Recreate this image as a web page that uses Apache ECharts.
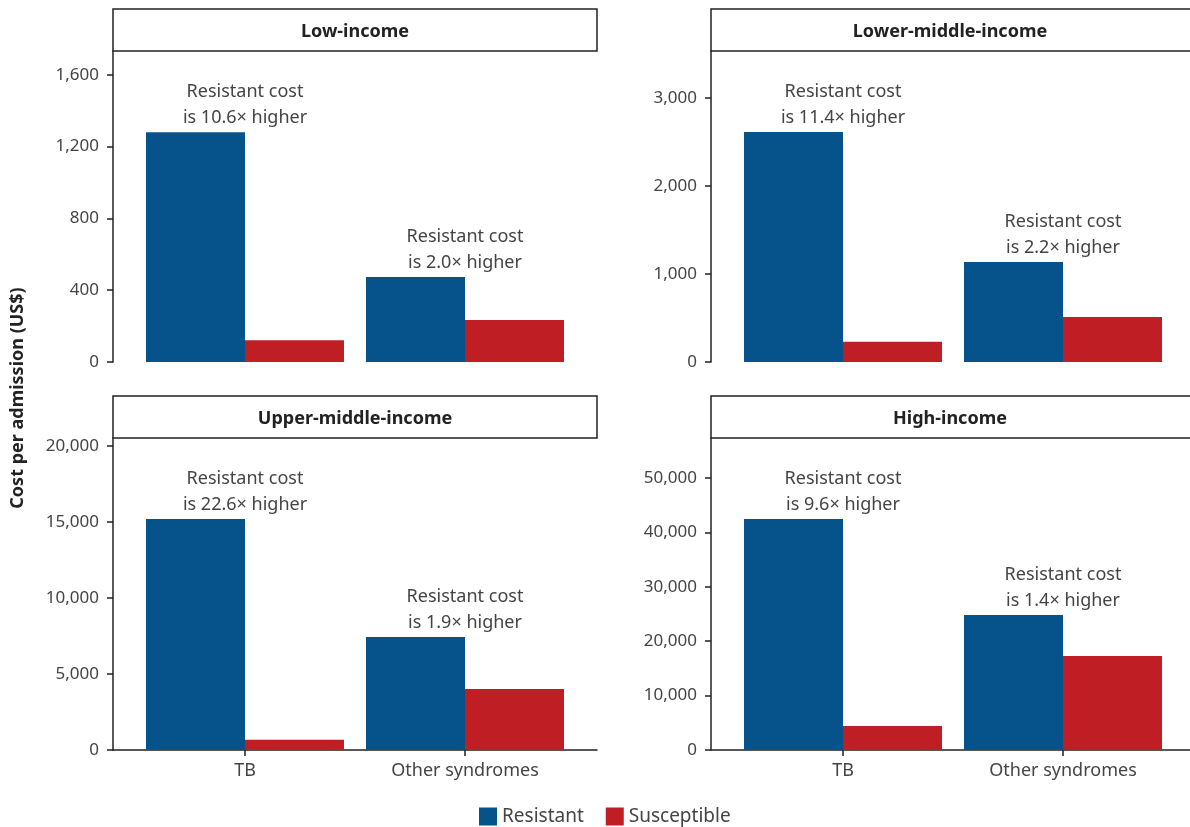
<!DOCTYPE html>
<html lang="en">
<head>
    <meta charset="UTF-8">
    <title>Cost per admission by income group</title>
    <style>
        html, body { margin: 0; padding: 0; background: #ffffff; }
        #chart { width: 1190px; height: 827px; }
    </style>
</head>
<body>
<div id="chart"></div>
<script src="https://cdn.jsdelivr.net/npm/echarts@6/dist/echarts.min.js"></script>
<script>
    // data
    var categories = ['TB', 'Other syndromes'];
    var panelNames = ['Low-income', 'Lower-middle-income', 'Upper-middle-income', 'High-income'];
    var seriesNames = ['Resistant', 'Susceptible'];
    var resistant = [[1280, 474], [2614, 1136], [15200, 7430], [42460, 24820]];
    var susceptible = [[121, 234], [229, 510], [672, 4010], [4420, 17280]];
    var ratios = [['10.6', '2.0'], ['11.4', '2.2'], ['22.6', '1.9'], ['9.6', '1.4']];
    var yTicks = [
        [0, 400, 800, 1200, 1600],
        [0, 1000, 2000, 3000],
        [0, 5000, 10000, 15000, 20000],
        [0, 10000, 20000, 30000, 40000, 50000]
    ];
    var yMax = [1733, 3534, 20526, 57353];

    var font = "'Source Sans Pro', 'Noto Sans', sans-serif";
    var blue = '#05538a';
    var red = '#be1e24';
    var ink = '#222222';

    // panel boxes: left, top of header, header width, visible plot width
    var boxes = [
        {left: 113, top: 9, width: 484, plotW: 484},
        {left: 711, top: 9, width: 484, plotW: 479},
        {left: 113, top: 396, width: 484, plotW: 484},
        {left: 711, top: 396, width: 484, plotW: 479}
    ];
    var headH = 42;
    var plotH = [311, 311, 312, 312];
    var pxPerCat = 220;

    var chart = echarts.init(document.getElementById('chart'));

    var grids = [], xAxes = [], yAxes = [], series = [], graphics = [];
    boxes.forEach(function (b, i) {
        var bottomRow = i >= 2;
        grids.push({left: b.left, top: b.top + headH, width: b.plotW, height: plotH[i]});
        xAxes.push({
            type: 'value', gridIndex: i, min: 0.4, max: 0.4 + b.plotW / pxPerCat,
            splitLine: {show: false},
            axisLine: {show: bottomRow, onZero: false, lineStyle: {color: ink, width: 1.5}},
            axisTick: {show: bottomRow, customValues: [1, 2], length: 6, lineStyle: {color: ink, width: 1.5}},
            axisLabel: {
                show: bottomRow, customValues: [1, 2], margin: 12,
                fontFamily: font, fontSize: 18, color: '#444',
                formatter: function (v) { return categories[Math.round(v) - 1]; }
            }
        });
        yAxes.push({
            type: 'value', gridIndex: i, min: 0, max: yMax[i],
            splitLine: {show: false},
            axisLine: {show: true, lineStyle: {color: ink, width: 1.5}},
            axisTick: {show: true, customValues: yTicks[i], length: 6, lineStyle: {color: ink, width: 1.5}},
            axisLabel: {
                customValues: yTicks[i], margin: 14,
                fontFamily: font, fontSize: 17, color: '#444',
                formatter: function (v) { return v.toLocaleString('en-US'); }
            }
        });
        series.push({
            name: seriesNames[0], type: 'bar', xAxisIndex: i, yAxisIndex: i,
            barWidth: 99, barGap: '0%', itemStyle: {color: blue},
            data: resistant[i].map(function (v, k) { return [k + 1, v]; }),
            label: {
                show: true, position: 'top', offset: [49.5, 0], distance: 1,
                fontFamily: font, fontSize: 18, lineHeight: 26, color: '#444',
                formatter: function (p) {
                    return 'Resistant cost\nis ' + ratios[i][p.dataIndex] + '\u00d7 higher';
                }
            }
        });
        series.push({
            name: seriesNames[1], type: 'bar', xAxisIndex: i, yAxisIndex: i,
            barWidth: 99, barGap: '0%', itemStyle: {color: red},
            data: susceptible[i].map(function (v, k) { return [k + 1, v]; })
        });
        // facet header
        graphics.push({
            type: 'rect', z: 10,
            shape: {x: b.left, y: b.top, width: b.width, height: headH},
            style: {fill: '#fff', stroke: ink, lineWidth: 1.5}
        });
        graphics.push({
            type: 'text', z: 11,
            x: b.left + b.width / 2 - (i % 2 ? 3 : 0), y: b.top + headH / 2 + 2,
            style: {
                text: panelNames[i], fill: ink, font: 'bold 18px ' + font,
                textAlign: 'center', textVerticalAlign: 'middle'
            }
        });
    });

    graphics.push({
        type: 'text', x: 18, y: 398, rotation: Math.PI / 2,
        style: {
            text: 'Cost per admission (US$)', fill: ink, font: 'bold 18px ' + font,
            textAlign: 'center', textVerticalAlign: 'middle'
        }
    });

    chart.setOption({
        animation: false,
        backgroundColor: '#ffffff',
        grid: grids,
        xAxis: xAxes,
        yAxis: yAxes,
        series: series,
        graphic: graphics,
        legend: {
            data: seriesNames, left: 474, top: 802,
            icon: 'rect', itemWidth: 18, itemHeight: 18, itemGap: 22,
            textStyle: {fontFamily: font, fontSize: 19, color: '#444'}
        }
    });
</script>
</body>
</html>
